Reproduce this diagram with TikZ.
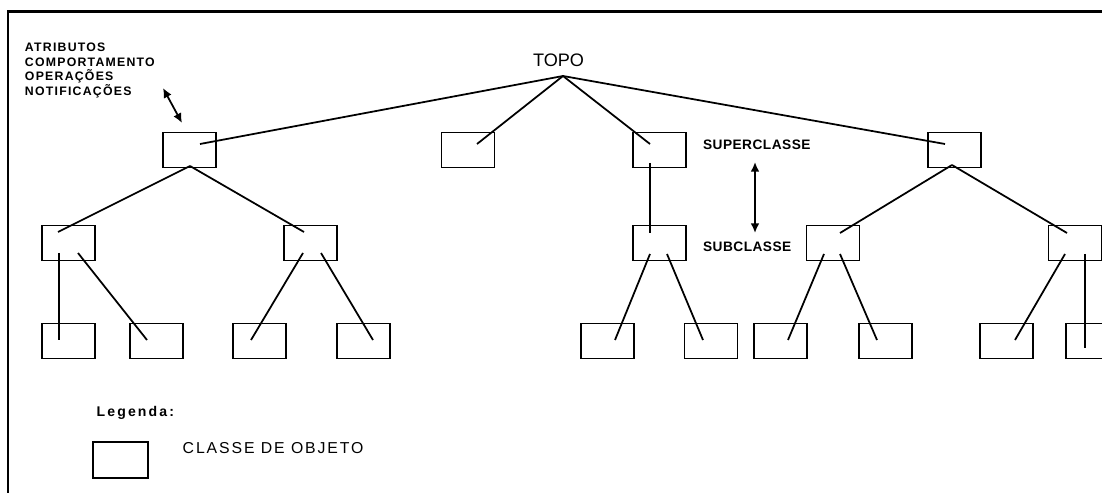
\documentclass[tikz,border=0pt]{standalone}
\usepackage{fontspec}
\setmainfont{Liberation Sans}
\usetikzlibrary{arrows.meta}
% letter-spaced families for the labels
\newfontfamily\notefam[LetterSpace=10]{Liberation Sans}
\newfontfamily\tagfam[LetterSpace=3.5]{Liberation Sans}
\newfontfamily\legfam[LetterSpace=15]{Liberation Sans}
\newfontfamily\keyfam[LetterSpace=12]{Liberation Sans}
\newcommand\fntnote{\notefam\bfseries\fontsize{7}{8.45}\selectfont}
\newcommand\fnttag{\tagfam\bfseries\fontsize{7.8}{9}\selectfont}
\newcommand\fnttopo{\fontsize{10.3}{12}\selectfont}
\newcommand\fntleg{\legfam\bfseries\fontsize{8}{9}\selectfont}
\newcommand\fntkey{\keyfam\fontsize{9}{10}\selectfont}
\begin{document}
\begin{tikzpicture}[x=0.02cm,y=-0.02cm,
  cls/.style={draw, line width=1.1pt, minimum width=1.06cm, minimum height=0.7cm, inner sep=0pt},
  link/.style={line width=1pt},
  dbl/.style={line width=1pt, {Latex[length=5.5pt,width=5pt]}-{Latex[length=5.5pt,width=5pt]}},
  txt/.style={inner sep=0pt, outer sep=0pt}]
\useasboundingbox (0,0) rectangle (1102,493);
\clip (0,0) rectangle (1102,493);

% page frame
\draw[line width=1.7pt] (8,510) -- (8,11.3) -- (1120,11.3);

% root label
\node[txt, anchor=base, font=\fnttopo] (topo) at (558.5,66.7) {TOPO};
\coordinate (apex) at (563,76);

% superclasses
\node[cls] (s1) at (189.5,150) {};
\node[cls] (s2) at (468,150) {};
\node[cls] (s3) at (659.5,150) {};
\node[cls] (s4) at (954.5,150) {};

% subclasses
\node[cls] (m1) at (68.5,243) {};
\node[cls] (m2) at (310.5,243) {};
\node[cls] (m3) at (659.5,243) {};
\node[cls] (m4) at (833,243) {};
\node[cls] (m5) at (1075,243) {};

% leaf classes
\node[cls] (l1) at (68.5,341) {};
\node[cls] (l2) at (156.5,341) {};
\node[cls] (l3) at (259.5,341) {};
\node[cls] (l4) at (363.5,341) {};
\node[cls] (l5) at (607.5,341) {};
\node[cls] (l6) at (711,341) {};
\node[cls] (l7) at (780.5,341) {};
\node[cls] (l8) at (885.5,341) {};
\node[cls] (l9) at (1006.5,341) {};
\node[cls] (l10) at (1092.5,341) {};

% attachment points inside the boxes
\coordinate (s1t) at (200,144);  \coordinate (s1b) at (190,166);
\coordinate (s2t) at (477,144);
\coordinate (s3t) at (650,144);  \coordinate (s3b) at (650,163);
\coordinate (s4t) at (945,144);  \coordinate (s4b) at (952,165);
\coordinate (m1t) at (58,232);   \coordinate (m1a) at (59,253);   \coordinate (m1c) at (78,253);
\coordinate (m2t) at (304,232);  \coordinate (m2a) at (303,253);  \coordinate (m2c) at (321,253);
\coordinate (m3t) at (650,233);  \coordinate (m3a) at (650,254);  \coordinate (m3c) at (667,254);
\coordinate (m4t) at (840,233);  \coordinate (m4a) at (824,254);  \coordinate (m4c) at (840,254);
\coordinate (m5t) at (1067,233); \coordinate (m5a) at (1065,254); \coordinate (m5c) at (1085,254);
\coordinate (l1t) at (59,340);   \coordinate (l2t) at (147,340);
\coordinate (l3t) at (251,340);  \coordinate (l4t) at (373,340);
\coordinate (l5t) at (615,340);  \coordinate (l6t) at (703,340);
\coordinate (l7t) at (788,340);  \coordinate (l8t) at (877,340);
\coordinate (l9t) at (1015,340); \coordinate (l10t) at (1085,348);

% hierarchy links
\draw[link] (apex) -- (s1t);
\draw[link] (apex) -- (s2t);
\draw[link] (apex) -- (s3t);
\draw[link] (apex) -- (s4t);
\draw[link] (s1b) -- (m1t);
\draw[link] (s1b) -- (m2t);
\draw[link] (s3b) -- (m3t);
\draw[link] (s4b) -- (m4t);
\draw[link] (s4b) -- (m5t);
\draw[link] (m1a) -- (l1t);
\draw[link] (m1c) -- (l2t);
\draw[link] (m2a) -- (l3t);
\draw[link] (m2c) -- (l4t);
\draw[link] (m3a) -- (l5t);
\draw[link] (m3c) -- (l6t);
\draw[link] (m4a) -- (l7t);
\draw[link] (m4c) -- (l8t);
\draw[link] (m5a) -- (l9t);
\draw[link] (m5c) -- (l10t);

% note on the class contents (anchored at the baseline of its last line)
\node[txt, anchor=base west, align=left, font=\fntnote] (note) at (25,95.7)
  {ATRIBUTOS\\COMPORTAMENTO\\OPERAÇÕES\\NOTIFICAÇÕES};
\coordinate (na) at (163,88);
\coordinate (nb) at (182,123);
\draw[dbl] (na) -- (nb);

% level labels
\node[txt, anchor=base west, font=\fnttag] (sup) at (703,149.3) {SUPERCLASSE};
\node[txt, anchor=base west, font=\fnttag] (sub) at (703,251.7) {SUBCLASSE};
\coordinate (ha) at (755,162);
\coordinate (hb) at (755,233);
\draw[dbl] (ha) -- (hb);

% legend
\node[txt, anchor=base west, font=\fntleg] (leg) at (96.7,416.7) {Legenda:};
\node[cls, minimum width=1.1cm, minimum height=0.72cm] (key) at (120.5,460) {};
\node[txt, anchor=base west, font=\fntkey] (keytxt) at (182.7,453) {CLASSE DE OBJETO};
\end{tikzpicture}
\end{document}
